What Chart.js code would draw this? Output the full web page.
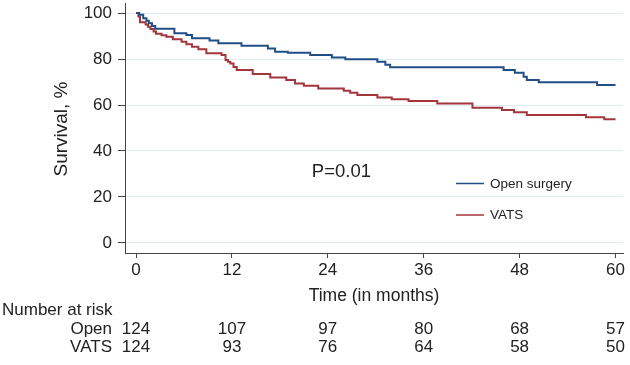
<!DOCTYPE html>
<html>
<head>
<meta charset="utf-8">
<script src="https://cdn.jsdelivr.net/npm/chart.js@4.4.1/dist/chart.umd.min.js"></script>
<style>
  html, body { margin: 0; padding: 0; background: #fff; }
  #wrap { width: 630px; height: 365px; }
</style>
</head>
<body>
<div id="wrap"><canvas id="km" width="630" height="365"></canvas></div>
<script>
// Kaplan-Meier steps (months, survival %)
const openTime = [0, 0.4, 0.9, 1.3, 1.6, 2.0, 2.4, 4.8, 6.3, 7.0, 9.2, 10.3, 13.2, 16.5, 17.4, 19.0, 21.8, 24.5, 26.2, 30.2, 31.2, 31.8, 46.0, 47.4, 48.5, 48.9, 50.4, 57.7, 60];
const openSurv = [100, 99.2, 97.7, 96.6, 95.5, 94.3, 93.1, 91.2, 90.4, 89.0, 88.0, 86.8, 85.8, 84.6, 83.2, 82.7, 81.7, 80.7, 79.9, 78.8, 77.5, 76.4, 75.2, 74.0, 72.3, 70.9, 69.9, 68.7, 68.7];

const vatsTime = [0, 0.3, 0.5, 1.2, 1.5, 1.8, 2.2, 2.5, 3.2, 3.8, 4.6, 5.7, 6.3, 7.0, 7.8, 8.8, 10.7, 11.2, 11.5, 11.8, 12.2, 12.6, 14.6, 16.8, 18.8, 19.9, 21.0, 22.8, 26.0, 26.8, 27.7, 30.2, 32.0, 34.1, 37.7, 42.1, 45.8, 47.3, 48.9, 56.3, 58.6, 60];
const vatsSurv = [100, 98.5, 96.0, 95.0, 94.0, 93.0, 92.0, 91.0, 90.3, 89.7, 88.6, 87.5, 86.4, 85.3, 84.2, 82.5, 81.7, 79.6, 78.8, 78.0, 76.5, 75.2, 73.5, 72.0, 70.9, 69.4, 68.4, 67.2, 66.2, 65.3, 64.3, 63.3, 62.5, 61.7, 60.7, 58.8, 57.8, 56.8, 55.7, 54.7, 53.8, 53.8];

const xTicks = [0, 12, 24, 36, 48, 60];
const yTicks = [0, 20, 40, 60, 80, 100];
const riskOpen = [124, 107, 97, 80, 68, 57];
const riskVats = [124, 93, 76, 64, 58, 50];

const BLUE = '#1f4f86';
const RED = '#a3353c';
const INK = '#222';
const FONT = '"Liberation Sans", Arial, Helvetica, sans-serif';

const toPoints = (t, s) => t.map((v, i) => ({ x: v, y: s[i] }));

// text parts: axis titles, p value, legend, risk table
const extras = {
  id: 'extras',
  afterDraw(chart) {
    const ctx = chart.ctx;
    const xs = chart.scales.x, ys = chart.scales.y;
    const area = chart.chartArea;
    ctx.save();
    ctx.fillStyle = INK;
    ctx.textBaseline = 'middle';

    // y title
    ctx.save();
    ctx.translate(62, 129);
    ctx.rotate(-Math.PI / 2);
    ctx.textAlign = 'center';
    ctx.font = '19px ' + FONT;
    ctx.fillText('Survival, %', 0, 0);
    ctx.restore();

    // x title
    ctx.textAlign = 'center';
    ctx.font = '17.5px ' + FONT;
    ctx.fillText('Time (in months)', (area.left + area.right) / 2, 296);

    // p value
    ctx.textAlign = 'left';
    ctx.font = '18.5px ' + FONT;
    ctx.fillText('P=0.01', xs.getPixelForValue(22), ys.getPixelForValue(30.9));

    // legend
    const lx = 456, lw = 28;
    [[BLUE, 'Open surgery', 183.5], [RED, 'VATS', 215]].forEach(([c, label, y]) => {
      ctx.strokeStyle = c;
      ctx.lineWidth = 1.5;
      ctx.beginPath();
      ctx.moveTo(lx, y);
      ctx.lineTo(lx + lw, y);
      ctx.stroke();
      ctx.font = '13.5px ' + FONT;
      ctx.fillStyle = INK;
      ctx.fillText(label, lx + lw + 6, y + 0.5);
    });

    // number at risk
    ctx.font = '17px ' + FONT;
    ctx.textAlign = 'left';
    ctx.fillText('Number at risk', 2, 310);
    ctx.textAlign = 'right';
    ctx.fillText('Open', 112, 329);
    ctx.fillText('VATS', 112, 347.5);
    ctx.textAlign = 'center';
    xTicks.forEach((t, i) => {
      const px = xs.getPixelForValue(t);
      ctx.fillText(String(riskOpen[i]), px, 329);
      ctx.fillText(String(riskVats[i]), px, 347.5);
    });
    ctx.restore();
  }
};

new Chart(document.getElementById('km'), {
  type: 'line',
  data: {
    datasets: [
      { label: 'Open surgery', data: toPoints(openTime, openSurv), borderColor: BLUE, borderWidth: 2, stepped: 'before', pointRadius: 0, fill: false },
      { label: 'VATS', data: toPoints(vatsTime, vatsSurv), borderColor: RED, borderWidth: 2, stepped: 'before', pointRadius: 0, fill: false }
    ]
  },
  options: {
    responsive: false,
    animation: false,
    devicePixelRatio: 1,
    layout: { padding: { left: 0, top: 3, right: 7, bottom: 0 } },
    plugins: { legend: { display: false }, tooltip: { enabled: false } },
    scales: {
      x: {
        type: 'linear',
        min: -1.38,
        max: 60.94,
        afterBuildTicks: s => { s.ticks = xTicks.map(v => ({ value: v })); },
        afterFit: s => { s.height = 112; s.paddingLeft = 0; s.paddingRight = 0; },
        grid: { drawOnChartArea: false, tickLength: 5, tickColor: '#444', tickWidth: 1 },
        border: { color: '#444', width: 1 },
        ticks: { color: INK, font: { family: FONT, size: 17 }, padding: 2, maxRotation: 0 }
      },
      y: {
        min: -4.35,
        max: 104.35,
        afterBuildTicks: s => { s.ticks = yTicks.map(v => ({ value: v })); },
        afterFit: s => { s.width = 125; s.paddingTop = 0; s.paddingBottom = 0; },
        grid: { color: '#e2ebf0', lineWidth: 1, tickLength: 7, tickColor: '#444', tickWidth: 1 },
        border: { color: '#444', width: 1 },
        ticks: { color: INK, font: { family: FONT, size: 17 }, padding: 6 }
      }
    }
  },
  plugins: [extras]
});
</script>
</body>
</html>
